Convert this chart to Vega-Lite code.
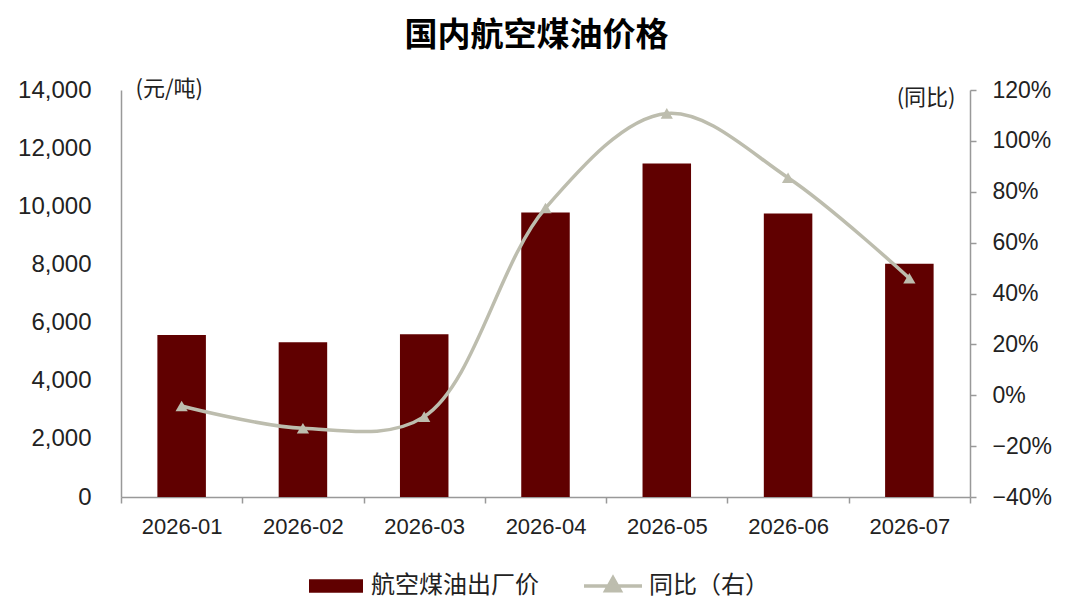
{
  "$schema": "https://vega.github.io/schema/vega-lite/v6.json",
  "width": 849,
  "height": 407,
  "autosize": "none",
  "padding": {"left": 121, "top": 90, "right": 110, "bottom": 112},
  "background": "white",
  "title": {
    "text": "国内航空煤油价格",
    "font": "Noto Sans CJK SC",
    "fontSize": 33,
    "fontWeight": "bold",
    "color": "#000",
    "anchor": "middle",
    "dx": -9,
    "offset": 24
  },
  "data": {
    "values": [
      {"month": "2026-01", "price": 5570, "yoy": -0.042},
      {"month": "2026-02", "price": 5320, "yoy": -0.13},
      {"month": "2026-03", "price": 5600, "yoy": -0.084},
      {"month": "2026-04", "price": 9790, "yoy": 0.736},
      {"month": "2026-05", "price": 11470, "yoy": 1.108},
      {"month": "2026-06", "price": 9750, "yoy": 0.855},
      {"month": "2026-07", "price": 8020, "yoy": 0.46}
    ]
  },
  "encoding": {
    "x": {
      "field": "month",
      "type": "ordinal",
      "scale": {"paddingInner": 0, "paddingOuter": 0},
      "axis": {
        "title": null,
        "labelAngle": 0,
        "labelFont": "Liberation Sans",
        "labelFontSize": 22,
        "labelColor": "#222",
        "labelPadding": 13,
        "domainColor": "#999",
        "domainWidth": 1.5,
        "tickColor": "#999",
        "tickWidth": 1.5,
        "tickSize": 6,
        "tickBand": "extent",
        "grid": false
      }
    }
  },
  "layer": [
    {
      "mark": {"type": "bar", "width": {"band": 0.4}},
      "encoding": {
        "y": {
          "field": "price",
          "type": "quantitative",
          "scale": {"domain": [0, 14000], "nice": false},
          "axis": {
            "orient": "left",
            "values": [0, 2000, 4000, 6000, 8000, 10000, 12000, 14000],
            "format": ",.0f",
            "title": "(元/吨)",
            "titleAngle": 0,
            "titleX": 14,
            "titleY": -2,
            "titleAlign": "left",
            "titleBaseline": "middle",
            "titleFont": "Noto Sans CJK SC",
            "titleFontSize": 22,
            "titleFontWeight": "normal",
            "titleColor": "#222",
            "labelFont": "Liberation Sans",
            "labelFontSize": 24,
            "labelColor": "#222",
            "labelPadding": 30,
            "ticks": false,
            "grid": false,
            "domainColor": "#999",
            "domainWidth": 1.5
          }
        },
        "color": {
          "datum": "航空煤油出厂价",
          "type": "nominal",
          "scale": {"range": ["#600000"]},
          "legend": {
            "title": null,
            "orient": "none",
            "legendX": 188,
            "legendY": 469,
            "padding": 0,
            "symbolType": "M-1,-0.25H1V0.25H-1Z",
            "symbolSize": 2916,
            "symbolStrokeWidth": 0,
            "labelOffset": 8,
            "labelLimit": 400,
            "labelFont": "Noto Sans CJK SC",
            "labelFontSize": 24,
            "labelColor": "#222"
          }
        }
      }
    },
    {
      "mark": {"type": "line", "interpolate": "catmull-rom", "strokeWidth": 3.5},
      "encoding": {
        "y": {
          "field": "yoy",
          "type": "quantitative",
          "scale": {"domain": [-0.4, 1.2], "nice": false},
          "axis": {
            "orient": "right",
            "values": [-0.4, -0.2, 0, 0.2, 0.4, 0.6, 0.8, 1.0, 1.2],
            "format": ".0%",
            "title": "(同比)",
            "titleAngle": 0,
            "titleX": -15,
            "titleY": 7,
            "titleAlign": "right",
            "titleBaseline": "middle",
            "titleFont": "Noto Sans CJK SC",
            "titleFontSize": 22,
            "titleFontWeight": "normal",
            "titleColor": "#222",
            "labelFont": "Liberation Sans",
            "labelFontSize": 23,
            "labelColor": "#222",
            "labelPadding": 16,
            "ticks": true,
            "tickSize": 6,
            "tickColor": "#999",
            "tickWidth": 1.5,
            "grid": false,
            "domainColor": "#999",
            "domainWidth": 1.5
          }
        },
        "stroke": {
          "datum": "同比（右）",
          "type": "nominal",
          "scale": {"range": ["#BDBDAE"]},
          "legend": {
            "title": null,
            "orient": "none",
            "legendX": 461,
            "legendY": 465,
            "padding": 0,
            "symbolType": "M-1,0H1M0,-0.28L0.25,0.16L-0.25,0.16Z",
            "symbolSize": 3364,
            "symbolStrokeWidth": 3.5,
            "labelOffset": 5,
            "labelLimit": 400,
            "labelFont": "Noto Sans CJK SC",
            "labelFontSize": 24,
            "labelColor": "#222",
            "encode": {"symbols": {"update": {"fill": {"value": "#BDBDAE"}}}}
          }
        }
      }
    },
    {
      "mark": {"type": "point", "shape": "triangle-up", "filled": true, "size": 150, "color": "#BDBDAE", "opacity": 1},
      "encoding": {
        "y": {"field": "yoy", "type": "quantitative", "scale": {"domain": [-0.4, 1.2], "nice": false}, "axis": null}
      }
    }
  ],
  "resolve": {"scale": {"y": "independent"}},
  "config": {
    "view": {"stroke": null},
    "font": "Liberation Sans"
  }
}
